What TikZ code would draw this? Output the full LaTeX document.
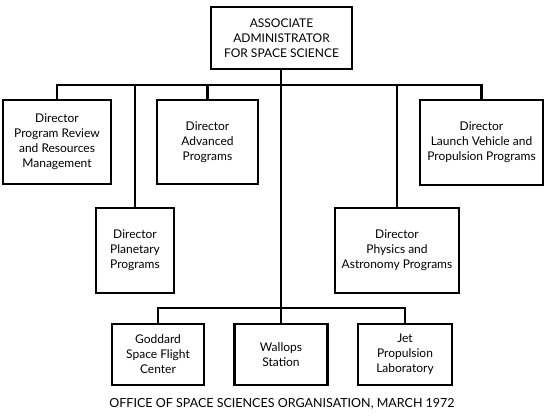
\documentclass[tikz,border=0pt]{standalone}
\usepackage{fontspec}
\setmainfont{Lato}
\begin{document}
\begin{tikzpicture}[x=1pt,y=1pt,
  box/.style={draw,line width=2.2pt,align=center,inner sep=0pt,
    font=\fontsize{12}{15}\selectfont},
  link/.style={line width=2.2pt}]
\useasboundingbox (0,0) rectangle (550,-418);
\node[box,minimum width=141pt,minimum height=62pt] (top) at (281.5,-38) {ASSOCIATE\\ADMINISTRATOR\\FOR SPACE SCIENCE};
\node[box,minimum width=108pt,minimum height=84pt] (pr) at (57,-142) {Director\\Program Review\\and Resources\\Management};
\node[box,minimum width=101pt,minimum height=84pt] (adv) at (207.5,-142) {Director\\Advanced\\Programs};
\node[box,minimum width=123pt,minimum height=85pt] (lv) at (481.5,-142.5) {Director\\Launch Vehicle and\\Propulsion Programs};
\node[box,minimum width=78pt,minimum height=85pt] (plan) at (135,-250.5) {Director\\Planetary\\Programs};
\node[box,minimum width=124pt,minimum height=85pt] (phys) at (397,-250.5) {Director\\Physics and\\Astronomy Programs};
\node[box,minimum width=92pt,minimum height=61pt] (god) at (158,-354.5) {Goddard\\Space Flight\\Center};
\node[box,minimum width=93pt,minimum height=61pt] (wal) at (281,-354.5) {Wallops\\Station};
\node[box,minimum width=94pt,minimum height=61pt] (jpl) at (405,-354.5) {Jet\\Propulsion\\Laboratory};
\node[font=\fontsize{12.5}{14}\selectfont] (cap) at (282,-404) {OFFICE OF SPACE SCIENCES ORGANISATION, MARCH 1972};
\coordinate (bus) at (0,-85);
\coordinate (bus2) at (0,-308);
\draw[link] (pr.north) -- (pr.north |- bus) -- (lv.north |- bus) -- (lv.north);
\draw[link] (adv.north) -- (adv.north |- bus);
\draw[link] (plan.north) -- (plan.north |- bus);
\draw[link] (phys.north) -- (phys.north |- bus);
\draw[link] (top.south -| wal.north) -- (wal.north);
\draw[link] (god.north) -- (god.north |- bus2) -- (jpl.north |- bus2) -- (jpl.north);
\end{tikzpicture}
\end{document}
